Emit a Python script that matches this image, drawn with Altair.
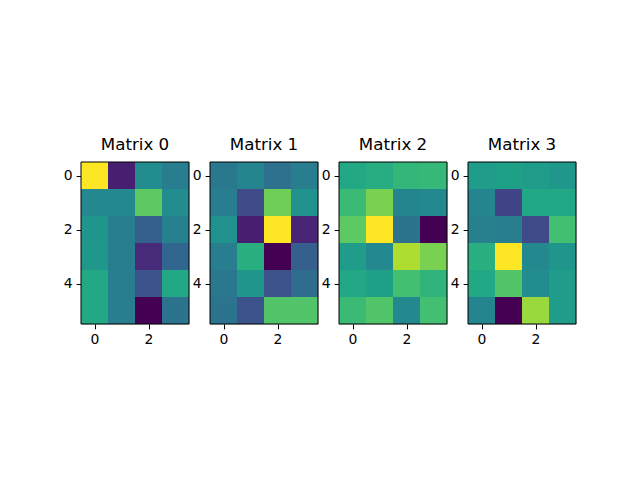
import altair as alt
import pandas as pd

titles = ["Matrix 0", "Matrix 1", "Matrix 2", "Matrix 3"]
x_ticks = [0, 2]
y_ticks = [0, 2, 4]

m0 = [
    [1.00, 0.08, 0.48, 0.42],
    [0.47, 0.47, 0.75, 0.48],
    [0.52, 0.42, 0.30, 0.43],
    [0.53, 0.42, 0.12, 0.33],
    [0.60, 0.42, 0.25, 0.60],
    [0.60, 0.42, 0.00, 0.38],
]
m1 = [
    [0.40, 0.45, 0.37, 0.42],
    [0.42, 0.22, 0.78, 0.50],
    [0.50, 0.08, 1.00, 0.10],
    [0.42, 0.63, 0.00, 0.30],
    [0.40, 0.52, 0.25, 0.35],
    [0.38, 0.25, 0.73, 0.73],
]
m2 = [
    [0.60, 0.62, 0.66, 0.67],
    [0.68, 0.80, 0.45, 0.47],
    [0.75, 1.00, 0.38, 0.00],
    [0.55, 0.47, 0.88, 0.80],
    [0.60, 0.57, 0.70, 0.65],
    [0.68, 0.73, 0.47, 0.70],
]
m3 = [
    [0.55, 0.57, 0.55, 0.53],
    [0.45, 0.20, 0.60, 0.60],
    [0.43, 0.42, 0.22, 0.70],
    [0.63, 1.00, 0.47, 0.52],
    [0.60, 0.73, 0.48, 0.55],
    [0.45, 0.00, 0.85, 0.55],
]
matrices = [m0, m1, m2, m3]

font = "DejaVu Sans"
W, H = 108, 162

def ax(vals):
    return alt.Axis(values=vals, title=None, grid=False, format="d", domain=False,
                    tickColor="black", tickSize=4.86, tickWidth=1, labelPadding=4,
                    labelFont=font, labelFontSize=13.9, labelColor="black")

def panel(mat, title):
    rows = []
    for r, row in enumerate(mat):
        for c, v in enumerate(row):
            rows.append({"x0": c - 0.5, "x1": c + 0.5, "y0": r - 0.5, "y1": r + 0.5, "v": v})
    df = pd.DataFrame(rows)
    heat = (
        alt.Chart(df)
        .mark_rect(strokeWidth=0)
        .encode(
            x=alt.X("x0:Q", scale=alt.Scale(domain=[-0.5, 3.5], nice=False, zero=False), axis=ax(x_ticks)),
            x2="x1:Q",
            y=alt.Y("y0:Q", scale=alt.Scale(domain=[-0.5, 5.5], nice=False, zero=False, reverse=True),
                    axis=ax(y_ticks)),
            y2="y1:Q",
            color=alt.Color("v:Q", scale=alt.Scale(scheme="viridis", domain=[0, 1]), legend=None),
        )
    )
    frame = alt.Chart(df).mark_rect(filled=False, stroke="black", strokeWidth=1).encode(
        x=alt.value(0), x2=alt.value(W), y=alt.value(0), y2=alt.value(H)
    ).transform_filter("datum.v == 1")
    return alt.layer(heat, frame).properties(
        width=W, height=H,
        title=alt.TitleParams(title, font=font, fontSize=16.7, fontWeight="normal",
                              color="black", offset=8),
    )

chart = (
    alt.hconcat(*[panel(m, t) for m, t in zip(matrices, titles)], spacing=21, bounds="flush")
    .resolve_scale(color="independent")
    .properties(padding={"left": 62, "top": 136, "right": 10, "bottom": 10})
    .configure_view(stroke=None)
    .configure(background="white")
)

chart.save("out.html", embed_options={"renderer": "svg", "actions": False})
